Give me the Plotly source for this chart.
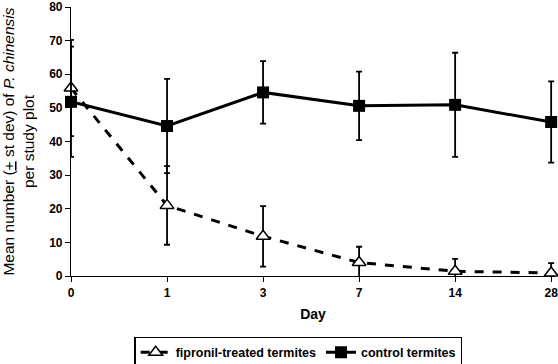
import plotly.graph_objects as go

days = ["0", "1", "3", "7", "14", "28"]
fipronil_mean = [55.9, 21.0, 11.8, 4.0, 1.4, 0.9]
fipronil_sd = [14.3, 11.7, 9.0, 4.7, 3.7, 2.9]
control_mean = [51.8, 44.6, 54.6, 50.6, 50.9, 45.8]
control_sd = [16.4, 14.0, 9.3, 10.2, 15.5, 12.1]
yticks = [0, 10, 20, 30, 40, 50, 60, 70, 80]

xpos = list(range(len(days)))
font = "Liberation Sans, Arial, sans-serif"

fig = go.Figure()
fig.add_trace(go.Scatter(
    x=xpos, y=fipronil_mean, name="fipronil-treated termites",
    mode="lines+markers",
    line=dict(color="black", width=3, dash="dash"),
    marker=dict(symbol="triangle-up", size=12, color="white",
                line=dict(color="black", width=1.5)),
    error_y=dict(type="data", array=fipronil_sd, color="black", thickness=1.8, width=3),
    cliponaxis=False,
))
fig.add_trace(go.Scatter(
    x=xpos, y=control_mean, name="control termites",
    mode="lines+markers",
    line=dict(color="black", width=3),
    marker=dict(symbol="square", size=12, color="black"),
    error_y=dict(type="data", array=control_sd, color="black", thickness=1.8, width=3),
    cliponaxis=False,
))

fig.update_layout(
    width=558, height=364,
    margin=dict(l=71, r=3, t=7, b=88, autoexpand=False),
    paper_bgcolor="white", plot_bgcolor="white",
    font=dict(family=font, color="black"),
    showlegend=True,
    legend=dict(orientation="h", x=0.47, xanchor="center", y=-0.225, yanchor="top",
                bordercolor="black", borderwidth=1.2,
                font=dict(size=12.5, family=font, weight="bold"),
                itemwidth=30, tracegroupgap=0),
)
fig.update_xaxes(
    range=[0, 5.04], tickvals=xpos, ticktext=days,
    showline=True, linecolor="black", linewidth=1.2,
    ticks="outside", ticklen=5, tickcolor="black",
    showgrid=False, zeroline=False, automargin=False,
    ticklabeloverflow="allow",
    tickfont=dict(size=12, family=font, weight="bold"),
    title=dict(text="Day", font=dict(size=14, family=font, weight="bold"), standoff=10),
)
fig.update_yaxes(
    range=[0, 80], tickvals=yticks,
    showline=True, linecolor="black", linewidth=1.2,
    ticks="outside", ticklen=5, tickcolor="black",
    showgrid=False, zeroline=False, automargin=False,
    ticklabeloverflow="allow",
    tickfont=dict(size=12, family=font, weight="bold"),
    title=dict(text="Mean number (<u>+</u> st dev) of <i>P. chinensis</i><br>per study plot",
               font=dict(size=15.5, family=font), standoff=12),
)

fig.write_html("out.html", config={"displayModeBar": False},
               post_script="document.body.style.margin='0';document.body.style.overflow='hidden';")
